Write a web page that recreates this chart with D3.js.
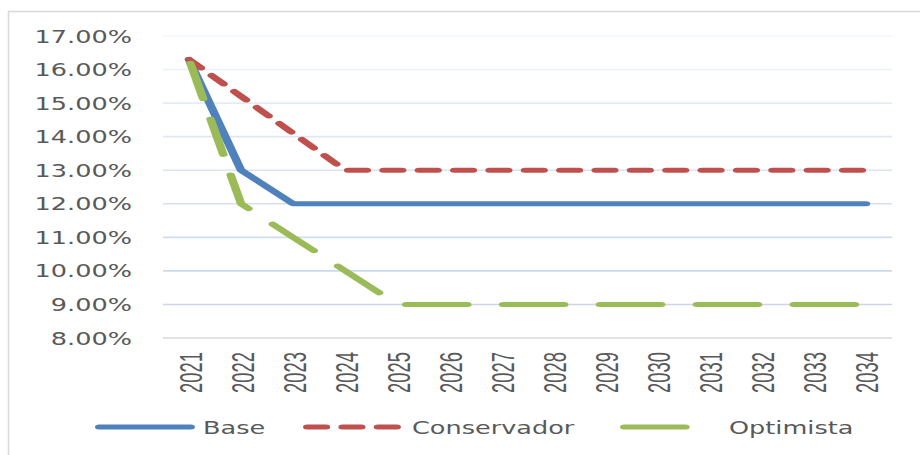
<!DOCTYPE html>
<html>
<head>
<meta charset="utf-8">
<script src="https://cdn.jsdelivr.net/npm/d3@7"></script>
<style>
  html, body { margin: 0; padding: 0; background: #fff; }
  svg { display: block; }
</style>
</head>
<body>
<svg id="chart" width="920" height="455"></svg>
<script>
// Tasa de descuento por escenario, 2021–2034 (en %)
const years = ["2021","2022","2023","2024","2025","2026","2027","2028","2029","2030","2031","2032","2033","2034"];
const base        = [16.3, 13, 12, 12, 12, 12, 12, 12, 12, 12, 12, 12, 12, 12];
const conservador = [16.3, 15.2, 14.1, 13, 13, 13, 13, 13, 13, 13, 13, 13, 13, 13];
const optimista   = [16.3, 12, 11, 10, 9, 9, 9, 9, 9, 9, 9, 9, 9, 9];
const yTicks = [8, 9, 10, 11, 12, 13, 14, 15, 16, 17];
const seriesNames = ["Base", "Conservador", "Optimista"];

const svg = d3.select("#chart");
const W = 920, H = 455;
const plot = { left: 163, right: 892, top: 36, bottom: 338 };
const SX = 1.7;          // horizontal stretch of the mark layer
const TEXT_SX = 1.42;    // horizontal stretch of the labels
const textColor = "#595959";

// frame
svg.append("rect")
  .attr("x", 8.5).attr("y", 11.5)
  .attr("width", W + 20).attr("height", H + 20)
  .attr("fill", "#fff")
  .attr("stroke", "#d9d9d9").attr("stroke-width", 1.6);

const y = d3.scaleLinear().domain([8, 17]).range([plot.bottom, plot.top]);
const plotW = plot.right - plot.left;
const x = d3.scaleBand().domain(years).range([0, plotW / SX]).paddingInner(0).paddingOuter(0);
const xScreen = d3.scaleBand().domain(years).range([plot.left, plot.right]);

// gridline gradient
const defs = svg.append("defs");
const grad = defs.append("linearGradient")
  .attr("id", "gridFade").attr("gradientUnits", "userSpaceOnUse")
  .attr("x1", 0).attr("x2", 0).attr("y1", plot.top).attr("y2", plot.bottom);
grad.append("stop").attr("offset", "0%").attr("stop-color", "#f1f5fb");
grad.append("stop").attr("offset", "45%").attr("stop-color", "#d9e3f1");
grad.append("stop").attr("offset", "100%").attr("stop-color", "#c3d3e8");

// horizontal grid
const grid = svg.append("g");
grid.selectAll("line")
  .data(yTicks.filter(t => t > 8))
  .join("line")
  .attr("x1", plot.left).attr("x2", plot.right)
  .attr("y1", d => y(d)).attr("y2", d => y(d))
  .attr("stroke", "url(#gridFade)")
  .attr("stroke-width", 1.6);

// category axis line
svg.append("line")
  .attr("x1", plot.left).attr("x2", plot.right)
  .attr("y1", y(8)).attr("y2", y(8))
  .attr("stroke", "#d9d9d9").attr("stroke-width", 1.6);

// y tick labels
const fmt = d => d.toFixed(2) + "%";
svg.append("g").selectAll("text")
  .data(yTicks)
  .join("text")
  .attr("transform", d => `translate(132,${y(d) + 6.5}) scale(${TEXT_SX},1)`)
  .attr("text-anchor", "end")
  .attr("font-family", "DejaVu Sans")
  .attr("font-size", 18)
  .attr("fill", textColor)
  .text(fmt);

// x tick labels (rotated)
const yearFont = 18.4;
svg.append("g").selectAll("text")
  .data(years)
  .join("text")
  .attr("transform", d => `translate(${xScreen(d) + xScreen.bandwidth() / 2 + 1},352) rotate(-90) scale(1,1.74)`)
  .attr("y", 0.358 * yearFont)
  .attr("text-anchor", "end")
  .attr("font-family", "Liberation Sans")
  .attr("font-size", yearFont)
  .attr("fill", textColor)
  .text(d => d);

// series
const series = [
  { name: seriesNames[0], values: base,        color: "#4f81bd", dash: null,     offset: 0 },
  { name: seriesNames[1], values: conservador, color: "#c0504d", dash: "11,9.8", offset: 0 },
  { name: seriesNames[2], values: optimista,   color: "#9bbb59", dash: "36,21",  offset: -4 }
];

const marks = svg.append("g")
  .attr("transform", `translate(${plot.left},0) scale(${SX},1)`);

const line = d3.line()
  .x((d, i) => x(years[i]) + x.bandwidth() / 2)
  .y(d => y(d));

marks.selectAll("path")
  .data(series)
  .join("path")
  .attr("d", s => line(s.values))
  .attr("fill", "none")
  .attr("stroke", s => s.color)
  .attr("stroke-width", 5)
  .attr("stroke-linecap", "round")
  .attr("stroke-linejoin", "round")
  .attr("stroke-dasharray", s => s.dash)
  .attr("stroke-dashoffset", s => s.offset);

// legend
const legendY = 427;
const legendItems = [
  { s: series[0], x0: 99.25, len: 53.8, tx: 203 },
  { s: series[1], x0: 307.25, len: 52.6, tx: 412 },
  { s: series[2], x0: 624.25, len: 36.2, tx: 729 }
];
const legend = svg.append("g");
legendItems.forEach(it => {
  legend.append("line")
    .attr("transform", `translate(${it.x0},${legendY}) scale(${SX},1)`)
    .attr("x1", 0).attr("x2", it.len).attr("y1", 0).attr("y2", 0)
    .attr("stroke", it.s.color)
    .attr("stroke-width", 5)
    .attr("stroke-linecap", "round")
    .attr("stroke-dasharray", it.s.dash);
  legend.append("text")
    .attr("transform", `translate(${it.tx},${legendY + 6.5}) scale(${TEXT_SX},1)`)
    .attr("font-family", "DejaVu Sans")
    .attr("font-size", 18)
    .attr("fill", textColor)
    .text(it.s.name);
});
</script>
</body>
</html>
